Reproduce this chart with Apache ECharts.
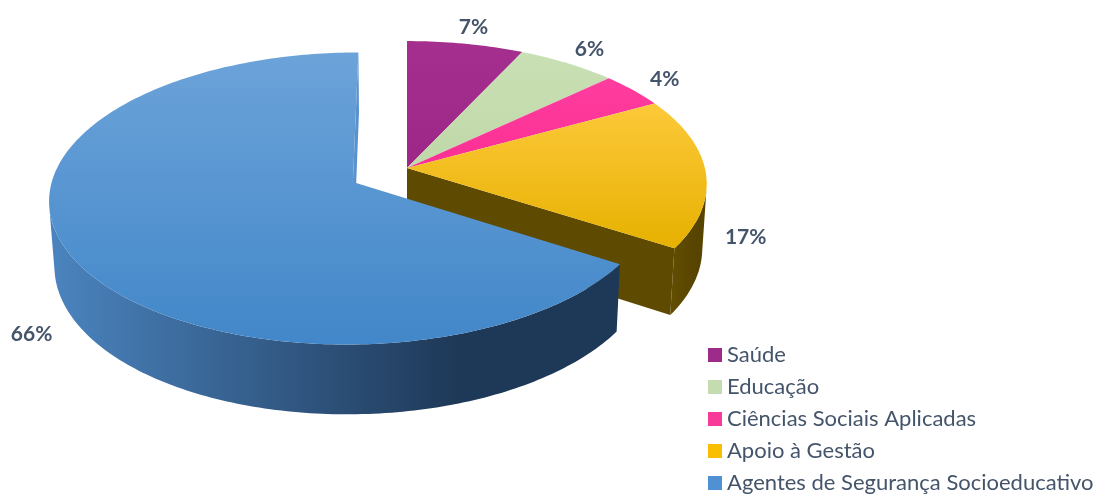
<!DOCTYPE html>
<html>
<head>
<meta charset="utf-8">
<script src="https://cdn.jsdelivr.net/npm/echarts@6/dist/echarts.min.js"></script>
<style>
  html, body { margin: 0; padding: 0; background: #ffffff; }
  #chart { width: 1101px; height: 495px; }
</style>
</head>
<body>
<div id="chart"></div>
<script>
// Dados
var categorias = ["Saúde", "Educação", "Ciências Sociais Aplicadas", "Apoio à Gestão", "Agentes de Segurança Socioeducativo"];
var porcentagens = [7, 6, 4, 17, 66];

// Cores: topo (claro, escuro), lateral (claro, escuro), legenda
var coresTopo = [["#a52f8f", "#9c2787"], ["#c9e0b4", "#bfd8a8"], ["#ff3d9f", "#fb2f93"], ["#fdc93a", "#e6b100"], ["#6ca3d9", "#4287c9"]];
var coresLado = [["#6d1c5d", "#5c154e"], ["#7f9470", "#6f8462"], ["#a8205f", "#93184f"], ["#634e00", "#574400"], ["#4b84bf", "#1e3857"]];
var coresLegenda = ["#9c2b8a", "#c4dcb0", "#f83a98", "#f9be00", "#4f91d3"];

// fatia destacada (afastada do centro)
var fatiaDestacada = 4;
var distDestaque = 0.205;

// projeção em perspectiva do disco
var CX = 407, CY = 168, F = 2362, D = 7.93, SA = 0.4735, CA = 0.8808, T = 0.2475;
var camZ = D * CA;
var rad = Math.PI / 180;

function proj(x, y, z) {
    var d = D - y * SA - z * CA;
    return [CX + F * x / d, CY + F * (z * SA - y * CA) / d];
}

var total = porcentagens.reduce(function (a, b) { return a + b; }, 0);
var inicio = [], fim = [];
var acc = 0;
porcentagens.forEach(function (v) {
    inicio.push(acc / total * 360);
    acc += v;
    fim.push(acc / total * 360);
});

function offset(i) {
    if (i !== fatiaDestacada) return [0, 0];
    var m = (inicio[i] + fim[i]) / 2 * rad;
    return [distDestaque * Math.sin(m), -distDestaque * Math.cos(m)];
}

function borda(o, a, r, y) {
    return proj(o[0] + r * Math.sin(a * rad), y, o[1] - r * Math.cos(a * rad));
}

// lateral externa voltada para a câmera?
function ladoVisivel(o, a) {
    var t = a * rad;
    return -o[0] * Math.sin(t) - 1 - Math.cos(t) * (camZ - o[1]) > 0;
}

function paredeVisivel(o, a, k) {
    var t = a * rad;
    var nx = k * Math.cos(t), nz = k * Math.sin(t);
    var px = o[0] + 0.5 * Math.sin(t), pz = o[1] - 0.5 * Math.cos(t);
    return nx * (0 - px) + nz * (camZ - pz) > 0;
}

function desenhaFatia(i) {
    return function (params, api) {
        var o = offset(i), s = inicio[i], e = fim[i];
        var destaque = i === fatiaDestacada;
        var zLado = destaque ? 3 : 1, zTopo = destaque ? 4 : 2;
        var filhos = [];
        var angs = [];
        for (var a = s; a < e; a += 1) angs.push(a);
        angs.push(e);

        // lateral
        var vis = angs.filter(function (a) { return ladoVisivel(o, a); });
        if (vis.length > 1) {
            var pts = vis.map(function (a) { return borda(o, a, 1, 0); })
                .concat(vis.slice().reverse().map(function (a) { return borda(o, a, 1, -T); }));
            filhos.push({
                type: "polygon", z2: zLado, shape: { points: pts },
                style: { fill: { type: "linear", x: 0, y: 0, x2: 1, y2: 0, colorStops: [
                    { offset: 0, color: coresLado[i][0] }, { offset: 0.72, color: coresLado[i][1] }, { offset: 1, color: coresLado[i][1] }] } }
            });
        }

        // paredes radiais (só nas bordas da fatia destacada)
        var n = porcentagens.length;
        var prev = (i - 1 + n) % n, next = (i + 1) % n;
        [[s, -1, destaque || prev === fatiaDestacada], [e, 1, destaque || next === fatiaDestacada]].forEach(function (w) {
            if (!w[2] || !paredeVisivel(o, w[0], w[1])) return;
            var pts = [proj(o[0], 0, o[1]), borda(o, w[0], 1, 0), borda(o, w[0], 1, -T), proj(o[0], -T, o[1])];
            filhos.push({ type: "polygon", z2: zLado, shape: { points: pts }, style: { fill: destaque ? "#5a92ce" : "#5e4a00" } });
        });

        // topo
        var topo = [proj(o[0], 0, o[1])].concat(angs.map(function (a) { return borda(o, a, 1, 0); }));
        filhos.push({
            type: "polygon", z2: zTopo, shape: { points: topo },
            style: { fill: { type: "linear", x: 0, y: 0, x2: 0, y2: 1, colorStops: [
                { offset: 0, color: coresTopo[i][0] }, { offset: 1, color: coresTopo[i][1] }] } }
        });

        // rótulo
        var m = (s + e) / 2, cm = Math.cos(m * rad);
        var w = Math.max(0, Math.min(1, (0.2 - cm) / 0.2));
        var pl = borda(o, m, 1.15, -T * w);
        filhos.push({
            type: "text", z2: 10, x: pl[0], y: pl[1],
            style: {
                text: Math.round(porcentagens[i] / total * 100) + "%",
                font: "bold 21px Lato", fill: "#44546a",
                align: "center", verticalAlign: "middle"
            }
        });

        return { type: "group", children: filhos };
    };
}

var chart = echarts.init(document.getElementById("chart"));

chart.setOption({
    animation: false,
    backgroundColor: "#ffffff",
    legend: {
        orient: "vertical",
        left: 708,
        top: 344,
        width: 393,
        height: 220,
        padding: 0,
        icon: "rect",
        itemWidth: 14,
        itemHeight: 14,
        itemGap: 10,
        selectedMode: false,
        textStyle: { fontFamily: "Lato", fontSize: 22, color: "#44546a", lineHeight: 22 },
        data: categorias
    },
    series: categorias.map(function (nome, i) {
        return {
            type: "custom",
            name: nome,
            coordinateSystem: "none",
            silent: true,
            itemStyle: { color: coresLegenda[i] },
            data: [porcentagens[i]],
            renderItem: desenhaFatia(i)
        };
    })
});
</script>
</body>
</html>
